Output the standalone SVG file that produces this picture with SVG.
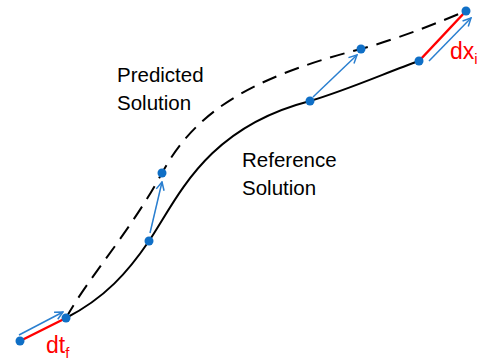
<svg xmlns="http://www.w3.org/2000/svg" width="486" height="360" viewBox="0 0 486 360">
<style>
.sol{fill:none;stroke:#000;stroke-width:2}
.dash{stroke-dasharray:15 9}
.red{stroke:#ff0000;stroke-width:2.5;fill:none}
.arr{stroke:#2a7fd0;stroke-width:1.5;fill:none;marker-end:url(#ah)}
.pt{fill:#0f6fc6}
.lbl{font-family:"Liberation Sans",Arial,sans-serif;font-size:20.5px;fill:#000}
.rl{font-family:"Liberation Sans",Arial,sans-serif;font-size:23px;fill:#ff0000}
</style>
<defs>
<marker id="ah" markerWidth="10" markerHeight="10" refX="9" refY="5" orient="auto" markerUnits="userSpaceOnUse">
<path d="M1,1 L9,5 L1,9" fill="none" stroke="#2a7fd0" stroke-width="1.5"/>
</marker>
</defs>
<g id="connectors">
<path class="sol" d="M66,318 C105,298 128,272 149,241 C178,198 205,128 310,101 C350,89 390,71 419,61"/>
<path class="sol dash" d="M66,318 C88,278 130,232 162,173 C192,118 240,80 361,49 C400,38 440,22 466,11"/>
<line class="red" x1="20" y1="341" x2="66" y2="318"/>
<line class="red" x1="419" y1="61" x2="466" y2="11"/>
<line class="arr" x1="19" y1="335" x2="63" y2="312"/>
<line class="arr" x1="150" y1="233" x2="162" y2="182"/>
<line class="arr" x1="313" y1="97" x2="357" y2="55"/>
<line class="arr" x1="429" y1="61" x2="471" y2="18"/>
</g>
<g id="points">
<circle class="pt" cx="20" cy="341" r="4.5"/>
<circle class="pt" cx="66" cy="318" r="4.5"/>
<circle class="pt" cx="149" cy="241" r="4.5"/>
<circle class="pt" cx="162" cy="173" r="4.5"/>
<circle class="pt" cx="310" cy="101" r="4.5"/>
<circle class="pt" cx="361" cy="49" r="4.5"/>
<circle class="pt" cx="419" cy="61" r="4.5"/>
<circle class="pt" cx="466" cy="11" r="4.5"/>
</g>
<g id="predicted">
<text class="lbl" x="117" y="82">Predicted</text>
<text class="lbl" x="117" y="110">Solution</text>
</g>
<g id="reference">
<text class="lbl" x="242" y="167">Reference</text>
<text class="lbl" x="242" y="195">Solution</text>
</g>
<g id="dtf"><text class="rl" x="46" y="353">dt<tspan font-size="15" dy="5">f</tspan></text></g>
<g id="dxi"><text class="rl" x="450" y="59">dx<tspan font-size="15" dy="5">i</tspan></text></g>
</svg>
